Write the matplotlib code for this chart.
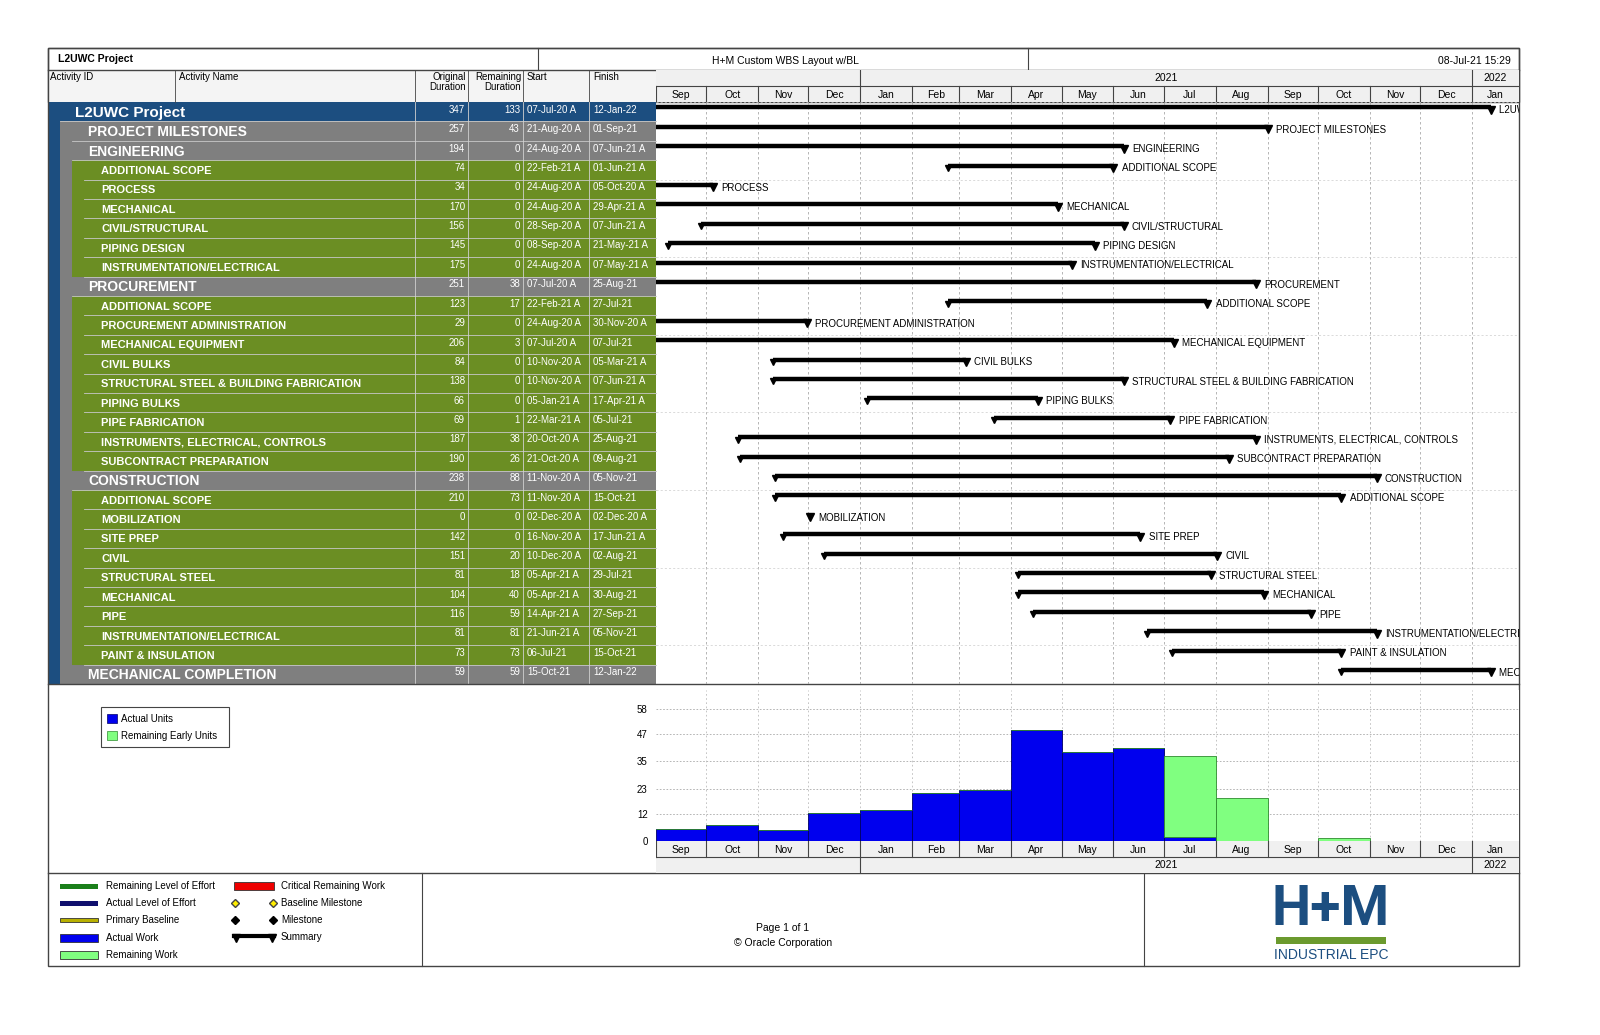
import matplotlib
matplotlib.use("Agg")
import matplotlib.pyplot as plt
import matplotlib.dates as mdates
from matplotlib.patches import Rectangle
from datetime import datetime

plt.rcParams["font.family"] = "Liberation Sans"

names = ["L2UWC Project", "PROJECT MILESTONES", "ENGINEERING", "ADDITIONAL SCOPE", "PROCESS",
         "MECHANICAL", "CIVIL/STRUCTURAL", "PIPING DESIGN", "INSTRUMENTATION/ELECTRICAL",
         "PROCUREMENT", "ADDITIONAL SCOPE", "PROCUREMENT ADMINISTRATION", "MECHANICAL EQUIPMENT",
         "CIVIL BULKS", "STRUCTURAL STEEL & BUILDING FABRICATION", "PIPING BULKS", "PIPE FABRICATION",
         "INSTRUMENTS, ELECTRICAL, CONTROLS", "SUBCONTRACT PREPARATION", "CONSTRUCTION",
         "ADDITIONAL SCOPE", "MOBILIZATION", "SITE PREP", "CIVIL", "STRUCTURAL STEEL", "MECHANICAL",
         "PIPE", "INSTRUMENTATION/ELECTRICAL", "PAINT & INSULATION", "MECHANICAL COMPLETION"]
levels = [0, 1, 1, 2, 2, 2, 2, 2, 2, 1, 2, 2, 2, 2, 2, 2, 2, 2, 2, 1, 2, 2, 2, 2, 2, 2, 2, 2, 2, 1]
orig_dur = [347, 257, 194, 74, 34, 170, 156, 145, 175, 251, 123, 29, 206, 84, 138, 66, 69, 187, 190,
            238, 210, 0, 142, 151, 81, 104, 116, 81, 73, 59]
rem_dur = [133, 43, 0, 0, 0, 0, 0, 0, 0, 38, 17, 0, 3, 0, 0, 0, 1, 38, 26, 88, 73, 0, 0, 20, 18, 40,
           59, 81, 73, 59]
starts = ["07-Jul-20 A", "21-Aug-20 A", "24-Aug-20 A", "22-Feb-21 A", "24-Aug-20 A", "24-Aug-20 A",
          "28-Sep-20 A", "08-Sep-20 A", "24-Aug-20 A", "07-Jul-20 A", "22-Feb-21 A", "24-Aug-20 A",
          "07-Jul-20 A", "10-Nov-20 A", "10-Nov-20 A", "05-Jan-21 A", "22-Mar-21 A", "20-Oct-20 A",
          "21-Oct-20 A", "11-Nov-20 A", "11-Nov-20 A", "02-Dec-20 A", "16-Nov-20 A", "10-Dec-20 A",
          "05-Apr-21 A", "05-Apr-21 A", "14-Apr-21 A", "21-Jun-21 A", "06-Jul-21", "15-Oct-21"]
finishes = ["12-Jan-22", "01-Sep-21", "07-Jun-21 A", "01-Jun-21 A", "05-Oct-20 A", "29-Apr-21 A",
            "07-Jun-21 A", "21-May-21 A", "07-May-21 A", "25-Aug-21", "27-Jul-21", "30-Nov-20 A",
            "07-Jul-21", "05-Mar-21 A", "07-Jun-21 A", "17-Apr-21 A", "05-Jul-21", "25-Aug-21",
            "09-Aug-21", "05-Nov-21", "15-Oct-21", "02-Dec-20 A", "17-Jun-21 A", "02-Aug-21",
            "29-Jul-21", "30-Aug-21", "27-Sep-21", "05-Nov-21", "15-Oct-21", "12-Jan-22"]

hist_months = ["2020-09", "2020-10", "2020-11", "2020-12", "2021-01", "2021-02", "2021-03", "2021-04",
               "2021-05", "2021-06", "2021-07", "2021-08", "2021-09", "2021-10", "2021-11", "2021-12"]
actual_units = [5.2, 7.0, 4.8, 12.2, 13.8, 21.3, 22.3, 48.8, 39.2, 41.0, 1.8, 0, 0, 0, 0, 0]
remaining_units = [0, 0, 0, 0, 0, 0, 0, 0, 0, 0, 35.5, 18.8, 0, 1.2, 0, 0]
hist_yticks = [0, 12, 23, 35, 47, 58]
month_labels = ["Sep", "Oct", "Nov", "Dec", "Jan", "Feb", "Mar", "Apr", "May", "Jun", "Jul", "Aug",
                "Sep", "Oct", "Nov", "Dec", "Jan"]

W, H = 1600, 1035
fig = plt.figure(figsize=(16, 10.35), dpi=100)
bg = fig.add_axes([0, 0, 1, 1])
bg.set_xlim(0, W); bg.set_ylim(H, 0); bg.axis("off")

def pax(x0, y0, x1, y1):
    return fig.add_axes([x0 / W, 1 - y1 / H, (x1 - x0) / W, (y1 - y0) / H])

def pd(s):
    return datetime.strptime(s.replace(" A", ""), "%d-%b-%y")

X0, X1 = mdates.date2num(datetime(2020, 9, 1)), mdates.date2num(datetime(2022, 1, 29))
month_starts = [datetime(2020 + (8 + i) // 12, (8 + i) % 12 + 1, 1) for i in range(18)]
mnum = [mdates.date2num(d) for d in month_starts]

BLUE = "#1c4e80"; GRAY = "#7f7f7f"; GREEN = "#6b8e23"; LINE = "#444444"
L, R = 48, 1519
TOP, ROW0, ROWEND = 48, 102, 684
nrow = len(names)
rh = (ROWEND - ROW0) / nrow
TX = 656

# header rows
bg.add_patch(Rectangle((L, TOP), R - L, ROW0 - TOP, fc="white", ec=LINE, lw=1))
bg.plot([L, R], [70, 70], color=LINE, lw=1)
bg.plot([538, 538], [48, 70], color=LINE, lw=0.8)
bg.plot([1028, 1028], [48, 70], color=LINE, lw=0.8)
bg.text(58, 59, "L2UWC Project", fontsize=7.5, fontweight="bold", va="center")
bg.text(785, 61, "H+M Custom WBS Layout w/BL", fontsize=7.5, va="center", ha="center")
bg.text(1511, 61, "08-Jul-21 15:29", fontsize=7.5, va="center", ha="right")
cols = [48, 175, 415, 468, 523, 589, 656]
bg.add_patch(Rectangle((L, 70), TX - L, 32, fc="#f4f4f4", ec="none"))
for c in cols[1:]:
    bg.plot([c, c], [70, 102], color=LINE, lw=0.6)
bg.text(50, 77, "Activity ID", fontsize=7, va="center")
bg.text(179, 77, "Activity Name", fontsize=7, va="center")
bg.text(466, 82, "Original\nDuration", fontsize=7, va="center", ha="right", linespacing=0.95)
bg.text(521, 82, "Remaining\nDuration", fontsize=7, va="center", ha="right", linespacing=0.95)
bg.text(527, 77, "Start", fontsize=7, va="center")
bg.text(593, 77, "Finish", fontsize=7, va="center")

# table rows
for i in range(nrow):
    y = ROW0 + i * rh
    lv = levels[i]
    bg.add_patch(Rectangle((L, y), TX - L, rh, fc=BLUE, ec="none"))
    if lv >= 1:
        bg.add_patch(Rectangle((60, y), TX - 60, rh, fc=GRAY, ec="none"))
    if lv >= 2:
        bg.add_patch(Rectangle((72, y), TX - 72, rh, fc=GREEN, ec="none"))
    x0 = [60, 72, 84][lv]
    bg.plot([x0, TX], [y + rh, y + rh], color="#c8c8c8", lw=0.6)
    for c in cols[2:-1]:
        bg.plot([c, c], [y, y + rh], color="#d0d0d0", lw=0.6)
    cy = y + rh / 2
    fs = [11, 10, 8][lv]
    nx = [75, 88, 101][lv]
    bg.text(nx, cy + 1, names[i], color="white", fontsize=fs, fontweight="bold", va="center")
    bg.text(465, cy - 2, str(orig_dur[i]), color="white", fontsize=7, ha="right", va="center")
    bg.text(520, cy - 2, str(rem_dur[i]), color="white", fontsize=7, ha="right", va="center")
    bg.text(527, cy - 2, starts[i], color="white", fontsize=7, va="center")
    bg.text(593, cy - 2, finishes[i], color="white", fontsize=7, va="center")

# timeline header
def month_header(ax, yr_top):
    ax.set_xlim(X0, X1); ax.set_ylim(2, 0); ax.axis("off")
    ax.add_patch(Rectangle((X0, 0), X1 - X0, 2, fc="#f0f0f0", ec="none"))
    ym, yy = (1, 2) if yr_top else (0, 1)
    yrr = (0, 1) if yr_top else (1, 2)
    ax.plot([X0, X1], [1, 1], color=LINE, lw=0.8)
    for k in range(17):
        ax.plot([mnum[k], mnum[k]], [ym, yy], color=LINE, lw=0.8)
        ax.text((mnum[k] + min(mnum[k + 1], X1)) / 2, (ym + yy) / 2 + 0.05, month_labels[k],
                fontsize=7.5, ha="center", va="center")
    for d in [mnum[4], mnum[16]]:
        ax.plot([d, d], list(yrr), color=LINE, lw=0.8)
    ax.text((mnum[4] + mnum[16]) / 2, sum(yrr) / 2, "2021", fontsize=7.5, ha="center", va="center")
    ax.text((mnum[16] + X1) / 2, sum(yrr) / 2, "2022", fontsize=7.5, ha="center", va="center")

month_header(pax(TX, 70, R, 102), True)

# gantt
gx = pax(TX, ROW0, R, ROWEND)
gx.set_xlim(X0, X1); gx.set_ylim(nrow, 0); gx.axis("off")
for m in mnum[1:17]:
    gx.axvline(m, color="#aaaaaa", lw=0.6, ls=(0, (3, 3)))
for k in range(0, nrow, 4):
    gx.axhline(k, color="#cccccc", lw=0.5, ls=(0, (3, 3)))
for i in range(nrow):
    s = mdates.date2num(pd(starts[i])); f = mdates.date2num(pd(finishes[i]))
    yb = i + 0.28
    if f > s:
        gx.plot([s, f], [yb, yb], color="black", lw=3.2, solid_capstyle="butt")
        gx.plot([s], [yb + 0.12], marker="v", ms=5, color="black", clip_on=True)
    gx.plot([f], [yb + 0.12], marker="v", ms=5.5, color="black")
    gx.text(f + 5, i + 0.42, names[i].upper() if levels[i] else names[i], fontsize=7,
            va="center", clip_on=True)

bg.plot([L, R], [ROWEND, ROWEND], color=LINE, lw=1)

# histogram
hx = pax(TX, 690, R, 841)
hx.set_xlim(X0, X1); hx.set_ylim(0, 66.4)
for sp in hx.spines.values():
    sp.set_visible(False)
hx.set_xticks([])
hx.set_yticks(hist_yticks)
hx.tick_params(axis="y", length=0, labelsize=7, pad=6)
for t in hist_yticks[1:]:
    hx.axhline(t, color="#aaaaaa", lw=0.6, ls=(0, (2, 2)), zorder=0)
for m in mnum[1:17]:
    hx.axvline(m, color="#bbbbbb", lw=0.6, ls=(0, (2, 3)), zorder=0)
hd = [mdates.date2num(datetime.strptime(m, "%Y-%m")) for m in hist_months]
hw = [mnum[k + 1] - mnum[k] for k in range(len(hd))]
hx.bar(hd, actual_units, width=hw, align="edge", color="#0000ee", edgecolor="#000066", lw=0.6)
hx.bar(hd, remaining_units, width=hw, bottom=actual_units, align="edge", color="#80ff80",
       edgecolor="#2e8b2e", lw=0.6)
month_header(pax(TX, 841, R, 873), False)

# histogram legend
bg.add_patch(Rectangle((101, 707), 128, 40, fc="white", ec=LINE, lw=0.8))
bg.add_patch(Rectangle((107, 714), 10, 9, fc="#0000ee", ec="#000066", lw=0.5))
bg.text(121, 719, "Actual Units", fontsize=7, va="center")
bg.add_patch(Rectangle((107, 731), 10, 9, fc="#80ff80", ec="#2e8b2e", lw=0.5))
bg.text(121, 736, "Remaining Early Units", fontsize=7, va="center")

# outer frame and footer
bg.add_patch(Rectangle((L, TOP), R - L, 966 - TOP, fc="none", ec=LINE, lw=1))
bg.plot([L, R], [873, 873], color=LINE, lw=1)
bg.plot([422, 422], [873, 966], color=LINE, lw=0.8)
bg.plot([1144, 1144], [873, 966], color=LINE, lw=0.8)

leg1 = [("Remaining Level of Effort", "#1a7f1a", "line"), ("Actual Level of Effort", "#10106e", "line"),
        ("Primary Baseline", "#b8b000", "base"), ("Actual Work", "#0000ee", "box"),
        ("Remaining Work", "#80ff80", "box")]
for k, (lab, col, kind) in enumerate(leg1):
    y = 886 + k * 17.2
    if kind == "line":
        bg.add_patch(Rectangle((60, y - 2.5), 38, 5, fc=col, ec="none"))
    elif kind == "base":
        bg.add_patch(Rectangle((60, y - 2), 38, 4, fc=col, ec="#333333", lw=0.6))
    else:
        bg.add_patch(Rectangle((60, y - 4), 38, 8, fc=col, ec="#333333", lw=0.6))
    bg.text(106, y, lab, fontsize=7, va="center")
bg.add_patch(Rectangle((234, 882), 40, 8, fc="#ee0000", ec="#333333", lw=0.6))
bg.text(281, 886, "Critical Remaining Work", fontsize=7, va="center")
bg.plot([235, 273], [903, 903], ls="none", marker="D", ms=4.5, mfc="#ffee00", mec="#444444")
bg.text(281, 903, "Baseline Milestone", fontsize=7, va="center")
bg.plot([235, 273], [920, 920], ls="none", marker="D", ms=4.5, color="black")
bg.text(281, 920, "Milestone", fontsize=7, va="center")
bg.plot([234, 274], [936, 936], color="black", lw=3)
bg.plot([236, 272], [938, 938], ls="none", marker="v", ms=5.5, color="black")
bg.text(281, 937, "Summary", fontsize=7, va="center")

bg.text(783, 928, "Page 1 of 1", fontsize=7.5, ha="center", va="center")
bg.text(783, 943, "\u00a9 Oracle Corporation", fontsize=7.5, ha="center", va="center")

# logo
bg.text(1331, 910, "H+M", fontsize=40, fontweight="heavy", color="#1c4e80", ha="center",
        va="center", fontfamily="Roboto", fontstretch="condensed")
bg.add_patch(Rectangle((1276, 937), 110, 7, fc="#6b9a2e", ec="none"))
bg.text(1331, 955, "INDUSTRIAL EPC", fontsize=10, color="#1c4e80", ha="center", va="center")

fig.savefig("out.png", dpi=100)
